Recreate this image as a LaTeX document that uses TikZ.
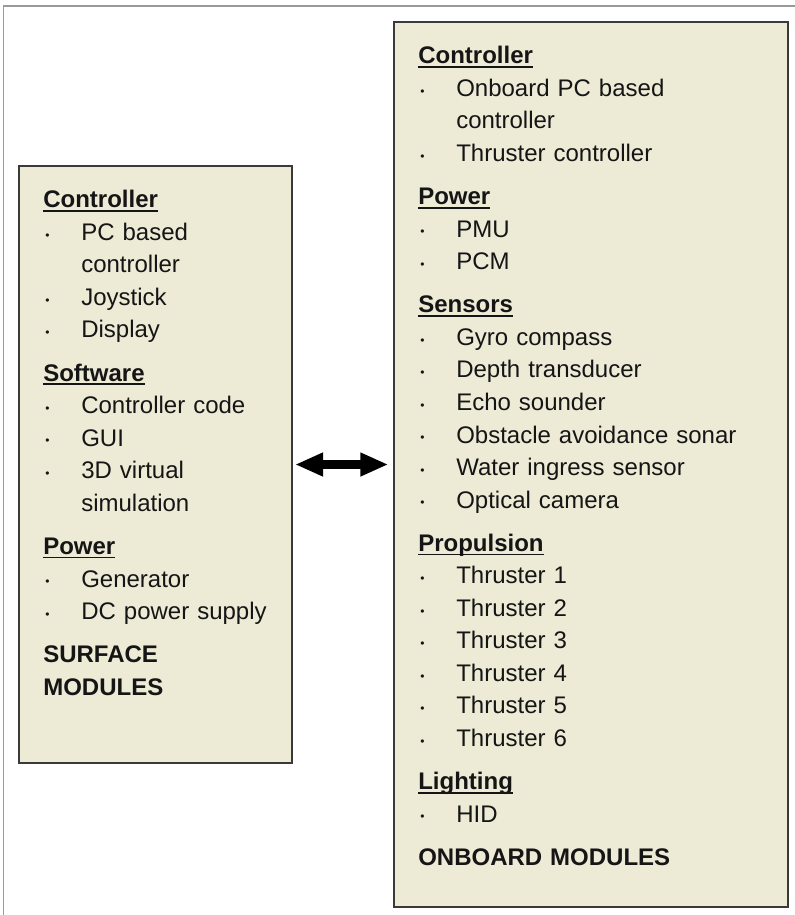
\documentclass[tikz,border=0pt]{standalone}
\usepackage{fontspec}
\setmainfont{Liberation Sans}
\usetikzlibrary{arrows.meta,positioning}

\definecolor{boxfill}{HTML}{EDEAD6}
\definecolor{boxline}{HTML}{3A3A3A}
\definecolor{framegray}{HTML}{9A9A9A}
\definecolor{txt}{HTML}{151515}

\newsavebox\hdbox
\newcommand{\hd}[1]{\par\noindent\strut\sbox\hdbox{\bfseries #1}\rlap{\rule[-3pt]{\wd\hdbox}{1.3pt}}\usebox\hdbox}
\newcommand{\gap}{\par\vspace{8pt}}
\newcommand{\itm}[1]{\par\hangindent=28.5pt\hangafter=1\noindent\strut\makebox[28.5pt][l]{\hspace{1.5pt}\raisebox{1pt}{\fontsize{9}{9}\selectfont •}}#1}

\begin{document}
\begin{tikzpicture}[x=0.75pt,y=-0.75pt,
  modbox/.style={draw=boxline,line width=1.5pt,fill=boxfill,inner sep=0pt},
  modtext/.style={anchor=north west,inner sep=0pt,align=left,text=txt,
    font=\fontsize{18}{24.4}\selectfont},
  biarrow/.style={{Triangle[length=21pt,width=16.5pt]}-{Triangle[length=21pt,width=16.5pt]},line width=6.75pt}]
  \useasboundingbox (0,0) rectangle (795,915);
  % page frame
  \draw[framegray,line width=1.2pt] (795,6) -- (3.5,6) -- (3.5,915);
  % module boxes
  \node[modbox,minimum width=204.4pt,minimum height=447.75pt] (surface) at (155.75,464.5) {};
  \node[modbox,minimum width=295.5pt,minimum height=663.75pt] (onboard) at (591,464.5) {};
  \node[modtext,text width=180pt] (surftxt) at (43,175) {%
    \hd{Controller}
    \itm{PC based\newline controller}
    \itm{Joystick}
    \itm{Display}
    \gap\hd{Software}
    \itm{Controller code}
    \itm{GUI}
    \itm{3D virtual\newline simulation}
    \gap\hd{Power}
    \itm{Generator}
    \itm{DC power supply}
    \gap\noindent{\bfseries SURFACE\newline MODULES}};
  \node[modtext,text width=270pt] (onbtxt) at (418,31) {%
    \hd{Controller}
    \itm{Onboard PC based\newline controller}
    \itm{Thruster controller}
    \gap\hd{Power}
    \itm{PMU}
    \itm{PCM}
    \gap\hd{Sensors}
    \itm{Gyro compass}
    \itm{Depth transducer}
    \itm{Echo sounder}
    \itm{Obstacle avoidance sonar}
    \itm{Water ingress sensor}
    \itm{Optical camera}
    \gap\hd{Propulsion}
    \itm{Thruster 1}
    \itm{Thruster 2}
    \itm{Thruster 3}
    \itm{Thruster 4}
    \itm{Thruster 5}
    \itm{Thruster 6}
    \gap\hd{Lighting}
    \itm{HID}
    \gap\noindent{\bfseries ONBOARD MODULES}};
  % link between the modules
  \draw[biarrow,shorten <=1.5pt,shorten >=3.5pt] (surface.east) -- (onboard.west);
\end{tikzpicture}
\end{document}
